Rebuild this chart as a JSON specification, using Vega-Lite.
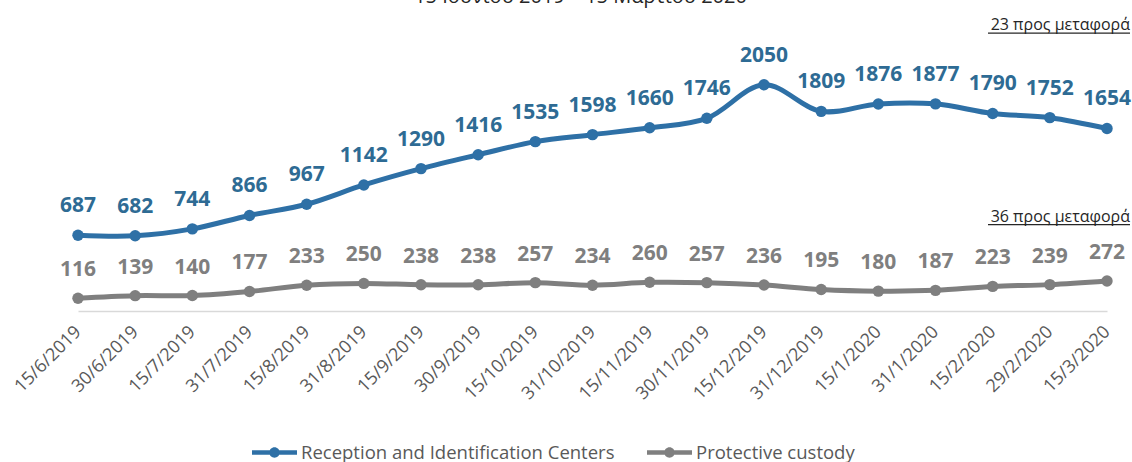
{
  "$schema": "https://vega.github.io/schema/vega-lite/v6.json",
  "autosize": {"type": "none"},
  "width": 1029,
  "height": 309,
  "padding": {"left": 78, "top": 2, "right": 25, "bottom": 151},
  "background": "white",
  "title": {"text": "15 Ιουνίου 2019 – 15 Μαρτίου 2020", "font": "Open Sans", "fontSize": 20, "fontWeight": "normal", "color": "#262626", "baseline": "alphabetic", "offset": -10, "dx": -12, "dy": 11},
  "datasets": {
    "main": [
      {"date": "15/6/2019", "series": "Reception and Identification Centers", "value": 687},
      {"date": "30/6/2019", "series": "Reception and Identification Centers", "value": 682},
      {"date": "15/7/2019", "series": "Reception and Identification Centers", "value": 744},
      {"date": "31/7/2019", "series": "Reception and Identification Centers", "value": 866},
      {"date": "15/8/2019", "series": "Reception and Identification Centers", "value": 967},
      {"date": "31/8/2019", "series": "Reception and Identification Centers", "value": 1142},
      {"date": "15/9/2019", "series": "Reception and Identification Centers", "value": 1290},
      {"date": "30/9/2019", "series": "Reception and Identification Centers", "value": 1416},
      {"date": "15/10/2019", "series": "Reception and Identification Centers", "value": 1535},
      {"date": "31/10/2019", "series": "Reception and Identification Centers", "value": 1598},
      {"date": "15/11/2019", "series": "Reception and Identification Centers", "value": 1660},
      {"date": "30/11/2019", "series": "Reception and Identification Centers", "value": 1746},
      {"date": "15/12/2019", "series": "Reception and Identification Centers", "value": 2050},
      {"date": "31/12/2019", "series": "Reception and Identification Centers", "value": 1809},
      {"date": "15/1/2020", "series": "Reception and Identification Centers", "value": 1876},
      {"date": "31/1/2020", "series": "Reception and Identification Centers", "value": 1877},
      {"date": "15/2/2020", "series": "Reception and Identification Centers", "value": 1790},
      {"date": "29/2/2020", "series": "Reception and Identification Centers", "value": 1752},
      {"date": "15/3/2020", "series": "Reception and Identification Centers", "value": 1654},
      {"date": "15/6/2019", "series": "Protective custody", "value": 116},
      {"date": "30/6/2019", "series": "Protective custody", "value": 139},
      {"date": "15/7/2019", "series": "Protective custody", "value": 140},
      {"date": "31/7/2019", "series": "Protective custody", "value": 177},
      {"date": "15/8/2019", "series": "Protective custody", "value": 233},
      {"date": "31/8/2019", "series": "Protective custody", "value": 250},
      {"date": "15/9/2019", "series": "Protective custody", "value": 238},
      {"date": "30/9/2019", "series": "Protective custody", "value": 238},
      {"date": "15/10/2019", "series": "Protective custody", "value": 257},
      {"date": "31/10/2019", "series": "Protective custody", "value": 234},
      {"date": "15/11/2019", "series": "Protective custody", "value": 260},
      {"date": "30/11/2019", "series": "Protective custody", "value": 257},
      {"date": "15/12/2019", "series": "Protective custody", "value": 236},
      {"date": "31/12/2019", "series": "Protective custody", "value": 195},
      {"date": "15/1/2020", "series": "Protective custody", "value": 180},
      {"date": "31/1/2020", "series": "Protective custody", "value": 187},
      {"date": "15/2/2020", "series": "Protective custody", "value": 223},
      {"date": "29/2/2020", "series": "Protective custody", "value": 239},
      {"date": "15/3/2020", "series": "Protective custody", "value": 272}
    ],
    "notes": [
      {"date": "15/3/2020", "value": 2545, "note": "23 προς μεταφορά"},
      {"date": "15/3/2020", "value": 810, "note": "36 προς μεταφορά"}
    ]
  },
  "config": {
    "view": {"stroke": null},
    "axisX": {"domainColor": "#d9d9d9", "domainWidth": 1.5, "ticks": false, "grid": false, "labelAngle": -45, "labelAlign": "right", "labelBaseline": "middle", "labelFont": "Open Sans", "labelFontSize": 18, "labelColor": "#595959", "labelPadding": 18, "title": null, "labelOverlap": false},
    "legend": {"orient": "none", "legendX": 174, "legendY": 428, "direction": "horizontal", "title": null, "symbolType": "M-1,-0.1L1,-0.1L1,0.1L-1,0.1Z M0.23,0A0.23,0.23 0 1,1 -0.23,0A0.23,0.23 0 1,1 0.23,0Z", "symbolSize": 2025, "symbolStrokeWidth": 0, "labelFont": "Open Sans", "labelFontSize": 18.5, "labelColor": "#595959", "columnPadding": 32, "labelOffset": 4, "labelLimit": 500}
  },
  "layer": [
    {
      "data": {"name": "main"},
      "mark": {"type": "line", "interpolate": "catmull-rom", "strokeWidth": 5, "clip": false},
      "encoding": {
        "x": {"field": "date", "type": "ordinal", "sort": null, "scale": {"type": "point", "padding": 0}},
        "y": {"field": "value", "type": "quantitative", "scale": {"domain": [0, 2750]}, "axis": null},
        "color": {"field": "series", "type": "nominal", "scale": {"domain": ["Reception and Identification Centers", "Protective custody"], "range": ["#2e70a6", "#7f7f7f"]},
          "legend": {"encode": {"symbols": {"update": {"fill": {"scale": "color", "field": "value"}, "strokeWidth": {"value": 0}, "opacity": {"value": 1}}}}}}
      }
    },
    {
      "data": {"name": "main"},
      "mark": {"type": "circle", "size": 130, "opacity": 1},
      "encoding": {
        "x": {"field": "date", "type": "ordinal", "sort": null},
        "y": {"field": "value", "type": "quantitative"},
        "color": {"field": "series", "type": "nominal"}
      }
    },
    {
      "data": {"name": "main"},
      "transform": [{"filter": "datum.series === 'Reception and Identification Centers'"}],
      "mark": {"type": "text", "dy": -23, "baseline": "alphabetic", "font": "Open Sans", "fontWeight": "bold", "fontSize": 21, "color": "#2e6b94"},
      "encoding": {
        "x": {"field": "date", "type": "ordinal", "sort": null},
        "y": {"field": "value", "type": "quantitative"},
        "text": {"field": "value", "type": "quantitative"}
      }
    },
    {
      "data": {"name": "main"},
      "transform": [{"filter": "datum.series === 'Protective custody'"}],
      "mark": {"type": "text", "dy": -22, "baseline": "alphabetic", "font": "Open Sans", "fontWeight": "bold", "fontSize": 21, "color": "#7f7f7f"},
      "encoding": {
        "x": {"field": "date", "type": "ordinal", "sort": null},
        "y": {"field": "value", "type": "quantitative"},
        "text": {"field": "value", "type": "quantitative"}
      }
    },
    {
      "data": {"name": "notes"},
      "mark": {"type": "text", "align": "right", "dx": 23, "baseline": "alphabetic", "font": "Open Sans", "fontSize": 16, "color": "#262626"},
      "encoding": {
        "x": {"field": "date", "type": "ordinal", "sort": null},
        "y": {"field": "value", "type": "quantitative"},
        "text": {"field": "note", "type": "nominal"}
      }
    },
    {
      "data": {"name": "notes"},
      "mark": {"type": "rule", "xOffset": -119, "x2Offset": 23, "yOffset": 3, "strokeWidth": 1.2, "color": "#262626"},
      "encoding": {
        "x": {"field": "date", "type": "ordinal", "sort": null},
        "x2": {"field": "date"},
        "y": {"field": "value", "type": "quantitative"}
      }
    }
  ]
}
